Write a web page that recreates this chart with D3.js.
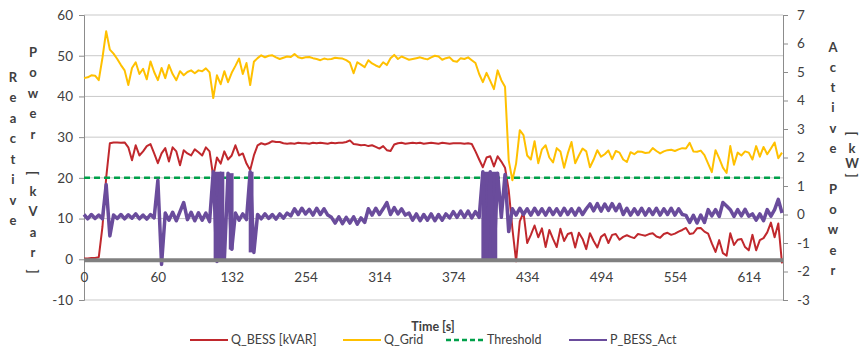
<!DOCTYPE html>
<html>
<head>
<meta charset="utf-8">
<script src="https://cdn.jsdelivr.net/npm/d3@7"></script>
<style>
  body { margin: 0; background: #fff; }
  text { font-family: Lato, "Liberation Sans", sans-serif; fill: #404040; }
</style>
</head>
<body>
<svg id="chart" width="860" height="350"></svg>
<script>
// x axis: one sample every 1/20 of a label interval
const timeLabels = [0, 60, 132, 254, 314, 374, 434, 494, 554, 614];
const labelStep = 20;

// Q_BESS [kVAR], left axis
const qBess = [
  0.2, 0.2, 0.3, 0.3, 0.5, 8, 20, 28.5, 28.7, 28.7,
  28.6, 28.7, 27.5, 24.3, 28, 25.5, 26.5, 27.8, 28.3, 26,
  23.6, 26, 27.3, 24, 27.5, 26.5, 23.1, 26.8, 26, 25.5,
  27, 26.3, 25.5, 27.5, 26.5, 20.3, 25, 23.5, 26.5, 24.5,
  25.5, 28, 25.5, 26, 23.5, 21.9, 25.5, 28, 28.5, 28.2,
  28.5, 29, 28.8, 28.8, 28.5, 28.4, 28.5, 28.4, 28.6, 28.5,
  28.5, 28.4, 28.6, 28.5, 28.6, 28.5, 28.4, 28.6, 28.5, 28.6,
  28.6, 28.8, 29.2, 28.3, 28.2, 28, 28.1, 27.8, 28, 27.6,
  27.2, 27.8, 26.8, 26.6, 28.2, 28.5, 28.6, 28.4, 28.5, 28.6,
  28.5, 28.6, 28.4, 28.5, 28.6, 28.5, 28.4, 28.6, 28.5, 28.4,
  28.5, 28.5, 28.5, 28.4, 28.5, 28.3, 26.5, 24.5, 22.6, 25,
  25.3, 22.8, 25.3, 24, 22.5, 17, 7.5, -0.5, 9.3, 11.5,
  4, 6, 8.3, 5.4, 7.6, 3, 7.2, 5, 3, 7.5,
  4.5, 6.2, 6.5, 2.9, 6.5, 5, 2.5, 6.4, 4.5, 2.9,
  5.5, 6.2, 4, 6, 6.2, 4.8, 5.5, 5.9, 5.5, 5.2,
  6.2, 6, 5.8, 6.2, 6.4, 5.6, 5.3, 6.2, 6.5, 6,
  6.3, 6.8, 7.2, 7.7, 6.2, 6.4, 7.6, 7.7, 6.8, 6.3,
  3.9, 1.8, 4.7, 1.5, 0.9, 6.4, 3.5, 4.8, 5, 3,
  2.2, 6, 2.2, 4.7, 5.2, 6.6, 9, 5.4, 8.8, -1
];

// Q_Grid, left axis
const qGrid = [
  44.5, 44.7, 45.2, 45.1, 44, 49.5, 56, 51.5, 50.5, 49.2,
  47.7, 46.4, 42.8, 47, 48.4, 45.5, 46.8, 44.2, 48.6, 46,
  44, 47, 44.5, 47.7, 45.5, 44, 46.2, 45.2, 46, 46.4,
  45.7, 46.4, 46.2, 46.9, 45.9, 39.6, 45.2, 43, 46.2, 43.5,
  45.8, 47.5, 49.3, 45.5, 48.2, 42.8, 48.5, 49.4, 50.1, 49.6,
  50, 50.1, 49.6, 49.2, 49.5, 49.8, 49.7, 50.4, 49.6, 49.4,
  49.6, 49.7, 49.4, 49.2, 48.9, 49.3, 49.1, 49.2, 49.5, 49.4,
  49.3, 48.9, 48.3, 45.7, 48.4, 47.8, 47.2, 48.9, 48.1, 47.6,
  47.2, 48.4, 47.7, 49.4, 50.2, 49.2, 49.8, 49.4, 49, 49.2,
  49.4, 49.6, 49.3, 49.1, 49.6, 50, 49.8, 49, 49.4, 49.6,
  48.7, 48.5, 49.4, 49.2, 49.6, 48.9, 48.2, 45.5, 43.5, 45.8,
  43.8, 41.8, 46.4, 44, 42.4, 24.3, 19.4, 23.5, 31.7, 30.5,
  25.5, 24.5, 29, 23.6, 27, 28, 25, 23.8, 27.3, 26.5,
  22.5, 26, 28.8, 23.6, 25.5, 27.2, 26.5, 22.6, 24.5, 26.8,
  25.2, 25.8, 26.7, 24.6, 26.6, 26.2, 24.5, 23.9, 26.3, 25.8,
  26.5, 26.4, 26.1, 26.2, 27.3, 26.6, 26, 26.5, 26.8, 26.9,
  26.6, 27, 27.3, 27.2, 28.6, 26.5, 26.4, 26.7, 25.6, 23.5,
  21.4, 26.8, 24.8, 22.5, 21.2, 27.8, 23.2, 26.2, 25.5, 26.5,
  26.2, 24.5, 27.8, 25.2, 27.6, 25.8, 27.2, 28.7, 24.8, 26.2
];

// P_BESS_Act [kW], right axis
const pBessAct = [
  0, -0.15, 0, -0.14, -0.02, -0.15, 1.05, -0.75, -0.02, -0.14,
  0, -0.15, -0.01, -0.13, 0.02, -0.15, -0.02, -0.16, 0, -0.12,
  1.2, -1.75, 0.05, -0.2, 0.08, -0.22, 0.1, 0.42, -0.18, 0.08,
  -0.22, 0.06, -0.2, 0.05, -0.25, 1.5, -1.65, 1.45, -1.6, 1.45,
  -1.22, 0.05, -0.2, 0.02, -0.18, 1.5, -1.33, 0, -0.15, 0.02,
  -0.14, 0, -0.16, 0.02, -0.13, 0.05, -0.05, 0.2, 0, 0.22,
  0.02, 0.18, -0.02, 0.22, 0, 0.2, -0.02, -0.1, -0.3, -0.08,
  -0.32, -0.1, -0.3, -0.08, -0.34, -0.12, -0.28, 0.2, -0.02, 0.22,
  0, 0.2, 0.42, 0, 0.24, 0.02, 0.2, -0.02, 0.05, -0.2,
  0.02, -0.22, 0, -0.2, 0.02, -0.22, 0, -0.2, 0.02, -0.12,
  0.1, -0.1, 0.12, -0.1, 0.12, -0.12, 0.1, -0.1, 1.5, -1.58,
  1.5, -1.58, 1.45, -0.1, 1.4, -0.6, 0.2, -0.02, 0.22, 0,
  0.2, -0.02, 0.22, 0, 0.2, -0.02, 0.22, 0, 0.2, -0.02,
  0.22, 0, 0.2, -0.02, 0.22, 0, 0.2, 0.37, 0.13, 0.38,
  0.12, 0.37, 0.14, 0.38, 0.13, 0.36, 0, 0.22, -0.02, 0.2,
  0, 0.22, -0.02, 0.2, 0, 0.22, -0.02, 0.2, 0, 0.22,
  -0.02, 0.2, 0, -0.03, -0.28, -0.03, -0.3, -0.02, -0.28, 0.17,
  -0.05, 0.17, -0.07, 0.42, 0.3, 0.17, -0.07, 0.17, -0.05, 0.18,
  -0.06, 0.02, -0.2, 0.02, -0.22, 0.17, -0.06, 0.17, 0.53, 0.05
];

// envelopes of the fast P_BESS_Act oscillation bursts (sample index from/to, kW high/low)
const burstFrom = [35.1, 39.2, 44.6, 107.6];
const burstTo = [38.0, 40.5, 45.9, 111.9];
const burstHigh = [1.5, 1.45, 1.5, 1.5];
const burstLow = [-1.65, -1.23, -1.33, -1.6];

const threshold = 20;

const leftTicks = [-10, 0, 10, 20, 30, 40, 50, 60];
const rightTicks = [-3, -2, -1, 0, 1, 2, 3, 4, 5, 6, 7];

const legendItems = [
  { name: "Q_BESS [kVAR]", color: "#c0282d", dash: null },
  { name: "Q_Grid", color: "#ffc000", dash: null },
  { name: "Threshold", color: "#00a04a", dash: "5,3" },
  { name: "P_BESS_Act", color: "#6a4c9c", dash: null }
];

const plot = { left: 84, right: 783, top: 15, bottom: 300 };
const svg = d3.select("#chart");

// SCALES
const x = d3.scaleLinear().domain([0, qBess.length - 1]).range([plot.left, plot.right - 1]);
const yL = d3.scaleLinear().domain([-10, 60]).range([plot.bottom, plot.top]);
const yR = d3.scaleLinear().domain([-3, 7]).range([plot.bottom, plot.top]);

// gridlines
svg.append("g")
  .selectAll("line")
  .data(leftTicks.filter(d => d !== 0))
  .join("line")
  .attr("x1", plot.left).attr("x2", plot.right)
  .attr("y1", d => yL(d)).attr("y2", d => yL(d))
  .attr("stroke", "#c9c9c9").attr("stroke-width", 1);

// AXES
const leftAxis = d3.axisLeft(yL).tickValues(leftTicks).tickSize(5).tickPadding(6).tickFormat(d => String(d));
const gL = svg.append("g").attr("transform", `translate(${plot.left},0)`).call(leftAxis);
const rightAxis = d3.axisRight(yR).tickValues(rightTicks).tickSize(5).tickPadding(9).tickFormat(d => String(d));
const gR = svg.append("g").attr("transform", `translate(${plot.right},0)`).call(rightAxis);
[gL, gR].forEach(g => {
  g.select(".domain").attr("stroke", "#8c8c8c");
  g.selectAll(".tick line").attr("stroke", "#8c8c8c");
  g.selectAll(".tick text").style("font-size", "13.5px").attr("fill", "#404040");
});

const xAxis = d3.axisBottom(x)
  .tickValues(timeLabels.map((d, i) => i * labelStep))
  .tickSize(0).tickPadding(13)
  .tickFormat((d, i) => timeLabels[i]);
const gX = svg.append("g").attr("transform", `translate(0,${yL(0)})`).call(xAxis);
gX.select(".domain").remove();
gX.selectAll(".tick text").style("font-size", "13.5px").attr("fill", "#404040");

// SERIES
const lineL = d3.line().x((d, i) => x(i)).y(d => yL(d));
const lineR = d3.line().x((d, i) => x(i)).y(d => yR(d));

svg.append("path").datum(qBess).attr("d", lineL)
  .attr("fill", "none").attr("stroke", legendItems[0].color).attr("stroke-width", 2).attr("stroke-linejoin", "round");
svg.append("path").datum(qGrid).attr("d", lineL)
  .attr("fill", "none").attr("stroke", legendItems[1].color).attr("stroke-width", 2).attr("stroke-linejoin", "round");
svg.append("line")
  .attr("x1", x(0)).attr("x2", x(qBess.length - 1))
  .attr("y1", yL(threshold)).attr("y2", yL(threshold))
  .attr("stroke", legendItems[2].color).attr("stroke-width", 2.5).attr("stroke-dasharray", "6,4");

const burstArea = d3.area()
  .x(d => x(d.i)).y0(d => yR(d.lo)).y1(d => yR(d.hi));
burstFrom.forEach((f, k) => {
  const pts = [
    { i: f, hi: burstHigh[k], lo: burstLow[k] },
    { i: burstTo[k], hi: burstHigh[k], lo: burstLow[k] }
  ];
  svg.append("path").datum(pts).attr("d", burstArea).attr("fill", legendItems[3].color);
});
svg.append("path").datum(pBessAct).attr("d", lineR)
  .attr("fill", "none").attr("stroke", legendItems[3].color).attr("stroke-width", 3.5).attr("stroke-linejoin", "round");

// category axis line crossing at zero
svg.append("line")
  .attr("x1", plot.left).attr("x2", plot.right)
  .attr("y1", yL(0) + 1).attr("y2", yL(0) + 1)
  .attr("stroke", "#808080").attr("stroke-width", 4);

// AXIS TITLES
svg.append("text").attr("x", 433).attr("y", 331)
  .attr("text-anchor", "middle").style("font-size", "12.5px").style("font-weight", "bold").attr("fill", "#222")
  .text("Time [s]");

function stackedTitle(chars, cx, y0, step) {
  const g = svg.append("g");
  let y = y0;
  chars.forEach(c => {
    if (c === " ") { y += step; return; }
    const t = g.append("text").attr("text-anchor", "middle")
      .style("font-size", "13px").style("font-weight", "bold").attr("fill", "#222");
    if (c === "[" || c === "]") {
      y += step * 0.1;
      t.attr("transform", `translate(${cx},${y - 4}) rotate(90)`).attr("dy", "0.35em").text(c);
      y += step * 0.7;
    } else {
      t.attr("x", cx).attr("y", y).attr("dy", "0.35em").text(c);
      y += step;
    }
  });
}
stackedTitle("Reactive".split(""), 13, 77, 20.5);
stackedTitle("Power [kVar]".split(""), 33, 52, 20.5);
stackedTitle("Active Power".split(""), 833, 47, 20.3);
stackedTitle("[kW]".split(""), 852, 136, 15);

// LEGEND
const legendX = [190, 343, 446, 569];
const lg = svg.append("g").selectAll("g").data(legendItems).join("g")
  .attr("transform", (d, i) => `translate(${legendX[i]},340)`);
lg.append("line").attr("x1", 0).attr("x2", 38).attr("y1", 0).attr("y2", 0)
  .attr("stroke", d => d.color).attr("stroke-width", d => d.dash ? 2.5 : 2)
  .attr("stroke-dasharray", d => d.dash);
lg.append("text").attr("x", 41).attr("dy", "0.35em").style("font-size", "12.5px").attr("fill", "#404040")
  .text(d => d.name);
</script>
</body>
</html>
